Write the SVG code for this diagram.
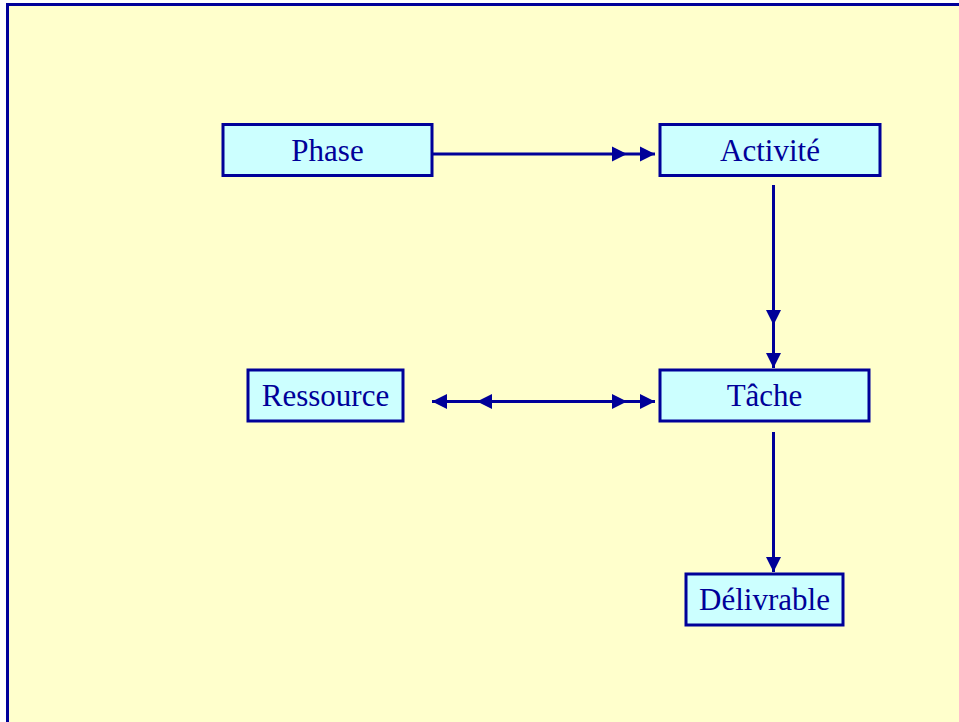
<svg xmlns="http://www.w3.org/2000/svg" width="959" height="722" viewBox="0 0 959 722">
  <defs>
    <marker id="arrow" markerUnits="userSpaceOnUse" markerWidth="16" markerHeight="16" viewBox="-16 -8 16 16" refX="0" refY="0" orient="auto">
      <path d="M0,0 L-15,-7.5 L-15,7.5 Z" fill="#000099"/>
    </marker>
  </defs>
  <style>
    .box { fill: #CCFFFF; stroke: #000099; stroke-width: 3; }
    .label { font-family: "Liberation Serif", "Times New Roman", serif; font-size: 31px; fill: #000099; text-anchor: middle; }
    .link { fill: none; stroke: #000099; stroke-width: 3; marker-mid: url(#arrow); marker-end: url(#arrow); }
  </style>

  <rect width="959" height="722" fill="#FFFFFF"/>
  <!-- page frame -->
  <rect x="7.5" y="4.5" width="1000" height="800" fill="#FFFFCC" stroke="#000099" stroke-width="3"/>

  <g id="connectors">
    <path class="link" d="M432,154 L627,154 L655,154"/>
    <path class="link" d="M773.5,185 L773.5,325 L773.5,368"/>
    <path class="link" d="M545,401.5 L477,401.5 L432,401.5"/>
    <path class="link" d="M545,401.5 L627,401.5 L655,401.5"/>
    <path class="link" d="M773.5,432 L773.5,572" style="marker-mid:none"/>
  </g>

  <g id="phase">
    <rect class="box" x="223" y="124.5" width="209" height="51"/>
    <text class="label" x="327.5" y="161">Phase</text>
  </g>
  <g id="activite">
    <rect class="box" x="660" y="124.5" width="220" height="51"/>
    <text class="label" x="770" y="161">Activité</text>
  </g>
  <g id="tache">
    <rect class="box" x="660" y="370" width="209" height="51"/>
    <text class="label" x="764.5" y="406">Tâche</text>
  </g>
  <g id="ressource">
    <rect class="box" x="248" y="370" width="155" height="51"/>
    <text class="label" x="325.5" y="406">Ressource</text>
  </g>
  <g id="delivrable">
    <rect class="box" x="686" y="574" width="157" height="51"/>
    <text class="label" x="764.5" y="610">Délivrable</text>
  </g>
</svg>
